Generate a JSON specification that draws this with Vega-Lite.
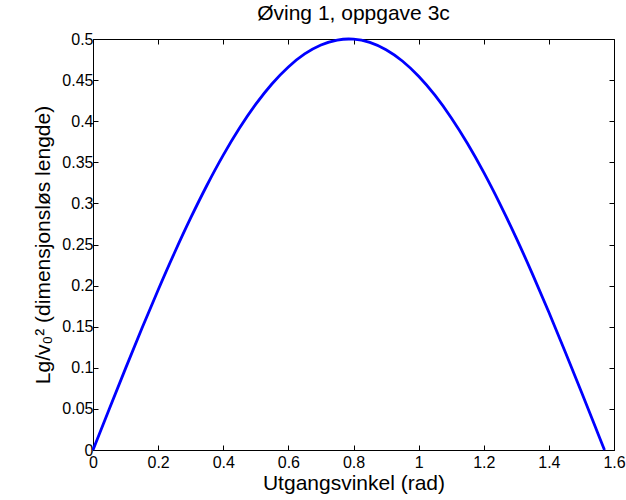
{
  "$schema": "https://vega.github.io/schema/vega-lite/v6.json",
  "width": 521,
  "height": 411,
  "autosize": {"type": "none"},
  "padding": {"left": 93, "top": 39, "right": 12, "bottom": 50},
  "background": "white",
  "config": {
    "font": "Liberation Sans",
    "view": {"stroke": "black", "strokeWidth": 1},
    "axis": {
      "grid": false,
      "domainColor": "black",
      "tickColor": "black",
      "tickSize": -5,
      "labelColor": "black",
      "titleColor": "black",
      "labelFont": "Liberation Sans",
      "titleFont": "Liberation Sans",
      "labelFontSize": 16,
      "titleFontSize": 21,
      "titleFontWeight": "normal",
      "format": "~g"
    }
  },
  "title": {"text": "Øving 1, oppgave 3c", "font": "Liberation Sans", "fontSize": 21, "fontWeight": "normal", "color": "black", "offset": 7},
  "data": {"values": [
    {"v": 0, "l": 0},
    {"v": 0.05, "l": 0.0499},
    {"v": 0.1, "l": 0.0993},
    {"v": 0.15, "l": 0.1478},
    {"v": 0.2, "l": 0.1947},
    {"v": 0.25, "l": 0.2397},
    {"v": 0.3, "l": 0.2823},
    {"v": 0.35, "l": 0.3221},
    {"v": 0.4, "l": 0.3587},
    {"v": 0.45, "l": 0.3916},
    {"v": 0.5, "l": 0.4207},
    {"v": 0.55, "l": 0.4456},
    {"v": 0.6, "l": 0.466},
    {"v": 0.65, "l": 0.4818},
    {"v": 0.7, "l": 0.4927},
    {"v": 0.75, "l": 0.4987},
    {"v": 0.785, "l": 0.5},
    {"v": 0.8, "l": 0.4998},
    {"v": 0.85, "l": 0.4958},
    {"v": 0.9, "l": 0.4869},
    {"v": 0.95, "l": 0.4732},
    {"v": 1.0, "l": 0.4546},
    {"v": 1.05, "l": 0.4316},
    {"v": 1.1, "l": 0.4042},
    {"v": 1.15, "l": 0.3728},
    {"v": 1.2, "l": 0.3377},
    {"v": 1.25, "l": 0.2992},
    {"v": 1.3, "l": 0.2578},
    {"v": 1.35, "l": 0.2137},
    {"v": 1.4, "l": 0.1675},
    {"v": 1.45, "l": 0.1196},
    {"v": 1.5, "l": 0.0706},
    {"v": 1.55, "l": 0.0208},
    {"v": 1.5708, "l": 0}
  ]},
  "layer": [
    {
      "mark": {"type": "line", "opacity": 0},
      "encoding": {
        "x": {"field": "v", "type": "quantitative", "scale": {"domain": [0, 1.6], "nice": false, "zero": false},
              "axis": {"orient": "top", "values": [0,0.2,0.4,0.6,0.8,1,1.2,1.4,1.6], "labels": false, "title": null, "domain": false}},
        "y": {"field": "l", "type": "quantitative", "scale": {"domain": [0, 0.5], "nice": false},
              "axis": {"orient": "right", "values": [0,0.05,0.1,0.15,0.2,0.25,0.3,0.35,0.4,0.45,0.5], "labels": false, "title": null, "domain": false}}
      }
    },
    {
      "mark": {"type": "line", "color": "#0000ff", "strokeWidth": 2.8, "interpolate": "monotone"},
      "encoding": {
        "x": {"field": "v", "type": "quantitative", "scale": {"domain": [0, 1.6], "nice": false, "zero": false},
              "axis": {"orient": "bottom", "values": [0,0.2,0.4,0.6,0.8,1,1.2,1.4,1.6], "title": "Utgangsvinkel (rad)", "labelPadding": 9, "titlePadding": 2, "labelFlush": false}},
        "y": {"field": "l", "type": "quantitative", "scale": {"domain": [0, 0.5], "nice": false},
              "axis": {"orient": "left", "values": [0,0.05,0.1,0.15,0.2,0.25,0.3,0.35,0.4,0.45,0.5], "title": "Lg/v₀² (dimensjonsløs lengde)", "labelPadding": 5, "titlePadding": 8, "labelFlush": false}}
      }
    }
  ],
  "resolve": {"axis": {"x": "independent", "y": "independent"}}
}
